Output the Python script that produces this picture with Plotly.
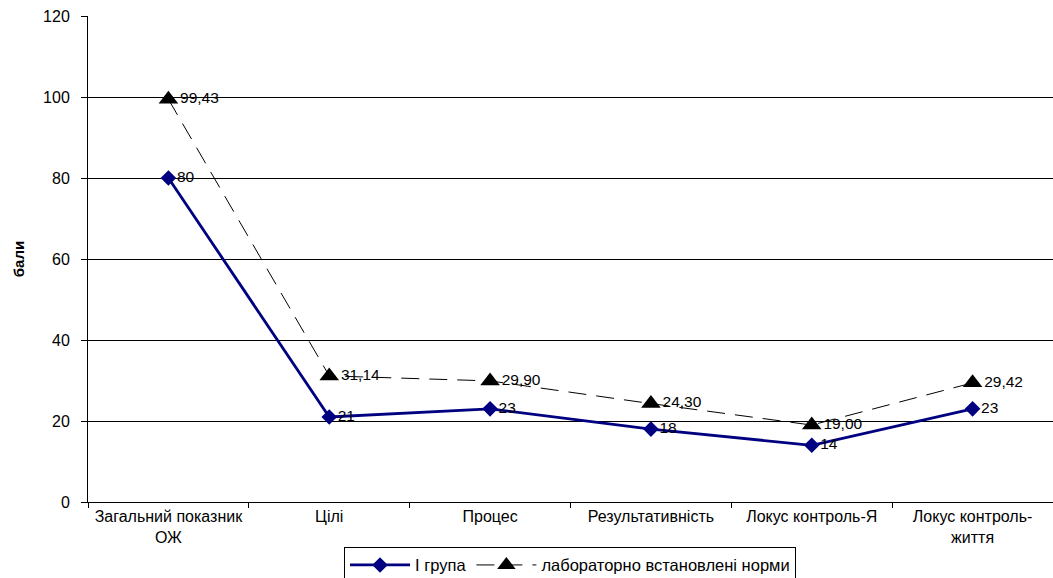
import plotly.graph_objects as go

categories = ["Загальний показник<br>ОЖ", "Цілі", "Процес", "Результативність",
              "Локус контроль-Я", "Локус контроль-<br>життя"]
group_values = [80, 21, 23, 18, 14, 23]
norm_values = [99.43, 31.14, 29.90, 24.30, 19.00, 29.42]
group_name = "І група"
norm_name = "лабораторно встановлені норми"
y_ticks = [0, 20, 40, 60, 80, 100, 120]

group_text = [f"{v:g}" for v in group_values]
norm_text = [f"{v:.2f}".replace(".", ",") for v in norm_values]

FONT = "Liberation Sans, Arial, sans-serif"

fig = go.Figure()
fig.add_trace(go.Scatter(
    x=categories, y=group_values, name=group_name,
    mode="lines+markers+text", text=group_text, textposition="middle right",
    textfont=dict(size=15.5, color="#000000", family=FONT),
    line=dict(color="#000080", width=2.8),
    marker=dict(symbol="diamond", size=12, color="#000080"),
    cliponaxis=False,
))
fig.add_trace(go.Scatter(
    x=categories, y=norm_values, name=norm_name,
    mode="lines+markers+text", text=norm_text, textposition="middle right",
    textfont=dict(size=15.5, color="#000000", family=FONT),
    line=dict(color="#000000", width=1, dash="18px,10px"),
    marker=dict(symbol="triangle-up", size=17, color="#000000"),
    cliponaxis=False,
))

fig.update_layout(
    width=1053, height=578,
    margin=dict(l=88, r=0, t=16, b=76, autoexpand=False),
    paper_bgcolor="white", plot_bgcolor="white",
    font=dict(family=FONT, size=15, color="#000000"),
    showlegend=True,
    legend=dict(
        orientation="h", x=0.4995, xanchor="center", y=-0.092, yanchor="top",
        bordercolor="#000000", borderwidth=1, bgcolor="white",
        font=dict(size=16.5, family=FONT), itemwidth=60,
        tracegroupgap=0,
    ),
)
fig.update_xaxes(
    type="category", range=[-0.5, 5.5], tickson="boundaries", ticks="outside", ticklen=5,
    tickcolor="#000000", showline=True, linecolor="#000000", linewidth=1,
    showgrid=False, automargin=False,
    tickfont=dict(size=16, family=FONT, color="#000000"),
)
fig.update_yaxes(
    range=[0, 120], tickvals=y_ticks, ticks="outside", ticklen=6,
    tickcolor="#000000", showline=True, linecolor="#000000", linewidth=1,
    showgrid=True, gridcolor="#000000", gridwidth=1, zeroline=False,
    automargin=False, ticklabelstandoff=8,
    tickfont=dict(size=16, family=FONT, color="#000000"),
    title=dict(text="<b>бали</b>", font=dict(size=15, family=FONT), standoff=14),
)

fig.write_html(
    "out.html",
    config={"displayModeBar": False},
    post_script="document.body.style.margin='0';document.body.style.overflow='hidden';",
)
